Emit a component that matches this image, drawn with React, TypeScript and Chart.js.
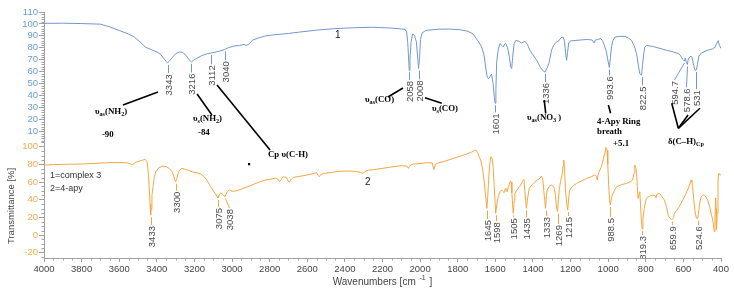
import React, { useEffect, useRef } from 'react';
import { Chart, registerables } from 'chart.js';

Chart.register(...registerables);

// ---- Data ----
// Spectrum 1 (complex 3): [wavenumber, transmittance %]
const spectrum1: [number, number][] = [
  [4000,100.5],[3900,100.6],[3800,100.3],[3700,99.8],[3650,97.5],[3600,94.5],[3550,91.5],[3520,89],[3490,85],[3460,80.5],
  [3430,78.5],[3400,76.5],[3380,74.5],[3365,71.5],[3350,68.5],[3343,67.3],[3335,68.5],[3320,71.5],[3300,75],[3280,76.5],
  [3265,76.3],[3250,74.5],[3235,71.5],[3222,68.8],[3216,68.2],[3205,69.5],[3190,71],[3160,73.5],[3130,75.2],[3112,75.6],
  [3090,76.3],[3060,77.5],[3040,78.6],[3020,80],[2990,81.5],[2960,82],[2935,82.8],[2925,82],[2910,83],[2890,86.5],
  [2860,88.2],[2820,90],[2780,90.8],[2700,92],[2640,93.2],[2550,94.8],[2460,96],[2350,96.8],[2250,97.2],[2150,96.5],
  [2100,95.8],[2080,95.4],[2072,93.5],[2066,85],[2060,68],[2058,61.1],[2054,70],[2048,85],[2040,91.5],[2030,90.5],
  [2020,85],[2012,70],[2008,62.6],[2003,72],[1998,87],[1990,92.3],[1970,94.6],[1900,95.6],[1850,95.7],[1790,95.2],
  [1750,94],[1735,93],[1718,91.5],[1700,87.5],[1685,84],[1673,80.7],[1660,74],[1650,62],[1643,55.6],[1636,54],
  [1628,56],[1620,58],[1612,50],[1605,38],[1601,33.5],[1597,45],[1593,68],[1585,78],[1576,83.5],[1565,82],
  [1558,80.7],[1550,83.2],[1544,83.5],[1535,80],[1526,73],[1518,64],[1513,62.6],[1508,72],[1500,83.5],[1491,86.2],
  [1475,85.5],[1460,84],[1443,85.5],[1430,83],[1416,78],[1400,74],[1380,69.5],[1360,63.5],[1345,60.5],[1336,59.7],
  [1325,63],[1315,67],[1301,78],[1290,82],[1278,84.5],[1265,85.5],[1255,87.5],[1245,89],[1238,88.6],[1232,85],
  [1226,75],[1221,69.5],[1216,76],[1210,84],[1200,85.8],[1186,86],[1150,86.5],[1110,87],[1085,86.5],[1075,84],
  [1068,86.5],[1055,87],[1040,87.8],[1030,86],[1020,82],[1010,77],[1002,70],[993.6,63.5],[988,72],[982,81],
  [975,86],[964,89],[940,89.6],[910,89.5],[890,88],[876,86.2],[860,81],[849,75],[838,64],[832,58.3],
  [822.5,57],[817,66],[810,76],[805,80.7],[795,82],[760,81],[725,79.5],[690,78],[654,76.5],[625,75],
  [615,73.5],[605,70.5],[594.7,69],[590,71.5],[584,67.5],[578.6,66],[574,70.5],[565,72.5],[555,72.5],[545,65],
  [538,61],[531,61.5],[525,66],[518,73],[505,75.5],[480,77.5],[460,78.5],[445,79],[432,80.5],[425,83],
  [415,86],[408,82],[400,79.5],
];

// Spectrum 2 (4-apy): [wavenumber, transmittance %]
const spectrum2: [number, number][] = [
  [4000,79.3],[3950,79.8],[3900,80],[3850,80.3],[3790,80.5],[3700,81.5],[3650,82],[3600,82],[3560,81.8],[3540,80.5],
  [3528,80],[3515,82],[3500,83.3],[3480,84.5],[3462,85.7],[3452,83],[3445,70],[3440,52],[3436,35],[3433,22.6],
  [3430,30],[3426,45],[3420,55],[3414,65],[3405,72],[3390,76],[3370,78],[3350,77.5],[3335,75.5],[3320,72],
  [3310,67],[3304,62],[3300,60.4],[3295,63],[3288,69],[3280,73],[3268,75.5],[3250,74.5],[3230,73],[3210,71.5],
  [3185,70.5],[3165,69],[3150,66.5],[3135,62.5],[3120,57],[3100,50],[3088,46.5],[3080,44],[3075,42],[3070,44.5],
  [3062,47.5],[3055,47],[3047,45.5],[3042,44],[3038,43.5],[3032,46],[3024,50],[3015,51],[3000,49.5],[2980,50],
  [2950,52],[2920,54.5],[2880,58],[2850,60.5],[2820,62.5],[2790,63.5],[2770,64.5],[2755,63],[2748,60.5],[2740,62.5],
  [2728,66],[2712,65.3],[2702,61.5],[2696,59.7],[2688,62.5],[2675,65.3],[2640,66.5],[2600,68],[2570,69.5],[2551,70.6],
  [2542,67.5],[2536,66],[2528,68.5],[2515,69.8],[2470,71],[2420,72.3],[2380,72.5],[2340,72],[2320,71],[2305,69.8],
  [2295,71.5],[2276,73.5],[2249,74],[2200,75.5],[2143,77.4],[2100,78.5],[2070,78],[2062,75.5],[2055,78.5],[2037,80.4],
  [2000,81],[1965,81.9],[1935,81.5],[1927,74],[1920,79],[1912,81.1],[1870,83.5],[1824,86.8],[1790,89],[1753,91.7],
  [1725,94],[1709,96.3],[1700,95.5],[1693,93],[1685,88],[1678,85],[1668,75],[1660,62.3],[1652,45],[1645,30.2],
  [1640,45],[1636,62],[1630,80],[1624,88.7],[1618,87.5],[1612,78],[1606,55],[1598,24.6],[1592,35],[1585,43.4],
  [1575,49],[1567,51],[1560,49.5],[1554,48],[1548,52],[1544,53],[1537,49],[1530,55],[1526,57],[1520,61],
  [1516,60],[1512,48],[1505,24.6],[1500,38],[1496,47.2],[1485,51],[1470,55],[1458,60],[1448,63],[1443,50],
  [1435,30.2],[1428,42],[1420,52.8],[1405,57],[1390,60.4],[1375,62.5],[1363,64.2],[1354,66.8],[1347,62],[1340,45],
  [1333,30.2],[1328,45],[1324,51],[1315,55],[1301,56.6],[1289,54.7],[1280,45],[1274,30],[1269,26.5],[1265,40],
  [1260,52],[1252,62],[1245,68],[1240,78],[1236,85],[1232,75],[1227,51],[1220,35],[1215,28.3],[1210,42],
  [1204,51],[1190,55],[1168,58.5],[1140,61.5],[1115,64.2],[1090,66],[1071,68],[1062,66],[1058,62.3],[1054,68],
  [1048,71.7],[1035,78],[1027,85],[1018,93],[1012,99.2],[1006,96],[1002,80],[997,55],[991,36],[988.5,34],
  [984,40],[978,45.3],[968,50],[955,54.7],[930,57],[902,58.5],[880,60.5],[870,62.3],[862,70],[858,79.3],
  [852,75],[849,70],[845,55],[841,41.5],[836,47],[832,49],[828,35],[823,15],[819.3,7],[815,19],
  [808,30],[797,41.5],[780,44],[762,45.3],[750,44.5],[745,42.3],[740,46.5],[727,47.2],[715,44],[701,39.6],
  [690,32],[680,22],[672,19],[665,18],[659.9,17.5],[652,20],[648,24.6],[635,28],[622,32],[605,39],
  [586,47],[570,55],[559,62.3],[555,60],[551,54.7],[545,40],[537,25],[530,19],[524.6,18.5],[520,24],
  [514,35],[506,43.4],[495,45.5],[489,45.3],[480,43],[471,39.6],[460,32],[450,22],[444,17.2],[438,8],
  [436,4],[432,20],[428,42],[426,30],[424,6],[420,25],[416,60],[413,70],[405,68],[400,68.5],
];

const xTickValues = [4000,3800,3600,3400,3200,3000,2800,2600,2400,2200,2000,1800,1600,1400,1200,1000,800,600,400];
const topTickValues = [10,20,30,40,50,60,70,80,90,100,110];
const bottomTickValues = [-20,0,20,40,60,80,100];

// Peak labels: [wavenumber, text, label top (transmittance), label wavenumber]
const peaks1: [number, string, number, number?][] = [
  [3343,'3343',57.8],[3216,'3216',58.4],[3112,'3112',65.3],[3040,'3040',68.7],
  [2058,'2058',52.2],[2008,'2008',52.7],[1601,'1601',25],[1336,'1336',50.5],
  [993.6,'993.6',56.1],[822.5,'822.5',47.6],[594.7,'594.7',52.2,650],[578.6,'578.6',46,585],[531,'531',44.4],
];
const peaks2: [number, string, number, number?][] = [
  [3433,'3433',10.2],[3300,'3300',49],[3075,'3075',30.6],[3038,'3038',29.4,3015],
  [1645,'1645',17],[1598,'1598',14.5],[1505,'1505',19],[1435,'1435',19],[1333,'1333',20.4],
  [1269,'1269',11.3],[1215,'1215',20.4],[988.5,'988.5',19.2],[819.3,'819.3',-1],[659.9,'659.9',10],[524.6,'524.6',10],
];

// Band assignments: text ( _{..} = subscript ), wavenumber, value, axis ('t' top / 'b' bottom)
const assignments: [string, number, number, string][] = [
  ['υ_{as}(NH_{2})',3729,26.2,'t'],
  ['-90',3692,6.9,'t'],
  ['υ_{s}(NH_{2})',3208,20.3,'t'],
  ['-84',3181,8.6,'t'],
  ['Cp υ(C-H)',2809,90.6,'b'],
  ['υ_{as}(CO)',2293,36.2,'t'],
  ['υ_{s}(CO)',1937,28.7,'t'],
  ['υ_{as}(NO_{3} )',1432,21.1,'t'],
  ['4-Apy Ring',1059,17.8,'t'],
  ['breath',1059,9.4,'t'],
  ['+5.1',974,103,'b'],
  ['δ(C–H)_{Cp}',682,105.3,'b'],
];

// Leader lines: list of [wavenumber, value, axis] points
const leaders: [number, number, string][][] = [
  [[3580,32,'t'],[3394,43,'t']],
  [[3186,41.3,'t'],[3107,23.7,'t']],
  [[3080,48.8,'t'],[2798,96.3,'b']],
  [[2171,38.8,'t'],[2091,46.3,'t']],
  [[1974,38.2,'t'],[1885,33.5,'t']],
  [[1340,36.2,'t'],[1332,25.1,'t']],
  [[999,32,'t'],[987,25.1,'t']],
  [[627,12.5,'t'],[662,33.5,'t']],
  [[627,12.5,'t'],[575,23.7,'t']],
  [[627,12.5,'t'],[512,29.3,'t']],
];

const dots: [number, number, string][] = [[2910,80.4,'b']];

const curveNames: [string, number, number, string][] = [['1',2453,90.5,'t'],['2',2293,60,'b']];
const legendLines: [string, number, number, string][] = [['1=complex 3',3968,67.8,'b'],['2=4-apy',3968,53.2,'b']];

const BLUE = '#7197d0';
const ORANGE = '#f7a541';
const BLUE_TXT = '#6a9ad6';
const ORANGE_TXT = '#f5a94e';
const AXIS = '#a0a0a0';

function interp(sp: [number, number][], wn: number): number {
  for (let i = 0; i < sp.length - 1; i++) {
    const [a, ya] = sp[i];
    const [b, yb] = sp[i + 1];
    if (wn <= a && wn >= b) {
      if (a === b) return ya;
      return ya + (yb - ya) * (a - wn) / (a - b);
    }
  }
  return sp[sp.length - 1][1];
}

function drawRich(ctx: CanvasRenderingContext2D, s: string, x: number, y: number, size: number) {
  const re = /_\{([^}]*)\}/g;
  const parts: [string, boolean][] = [];
  let last = 0;
  let m: RegExpExecArray | null;
  while ((m = re.exec(s))) {
    if (m.index > last) parts.push([s.slice(last, m.index), false]);
    parts.push([m[1], true]);
    last = re.lastIndex;
  }
  if (last < s.length) parts.push([s.slice(last), false]);
  let cx = x;
  for (const [t, sub] of parts) {
    ctx.font = `bold ${sub ? size * 0.7 : size}px "Liberation Serif", "DejaVu Serif", serif`;
    ctx.fillText(t, cx, sub ? y + size * 0.28 : y);
    cx += ctx.measureText(t).width;
  }
}

const irPlugin = {
  id: 'irAnnotations',
  afterDatasetsDraw(chart: any) {
    const ctx: CanvasRenderingContext2D = chart.ctx;
    const xs = chart.scales.x;
    const yt = chart.scales.yTop;
    const yb = chart.scales.yBot;
    const ca = chart.chartArea;
    const ax = (a: string) => (a === 't' ? yt : yb);

    ctx.save();
    ctx.beginPath();
    ctx.rect(ca.left, ca.top, ca.right - ca.left, ca.bottom - ca.top);
    ctx.clip();

    const drawPeaks = (list: [number, string, number, number?][], sp: [number, number][], ys: any, color: string) => {
      for (const [wn, text, top, lwn] of list) {
        const px = xs.getPixelForValue(wn);
        const py = ys.getPixelForValue(interp(sp, wn));
        const lx = xs.getPixelForValue(lwn ?? wn);
        const ty = ys.getPixelForValue(top);
        ctx.strokeStyle = color;
        ctx.lineWidth = 1;
        ctx.beginPath();
        ctx.moveTo(Math.round(px) + 0.5, py + 2);
        ctx.lineTo(Math.round(lx) + 0.5, ty - 1);
        ctx.stroke();
        ctx.save();
        ctx.translate(Math.round(lx) + 0.5, ty);
        ctx.rotate(-Math.PI / 2);
        ctx.textAlign = 'right';
        ctx.textBaseline = 'middle';
        ctx.fillStyle = '#4a4a4a';
        ctx.font = '9.5px "Liberation Sans", Arial, sans-serif';
        ctx.fillText(text, 0, 0.5);
        ctx.restore();
      }
    };
    drawPeaks(peaks1, spectrum1, yt, BLUE);
    drawPeaks(peaks2, spectrum2, yb, ORANGE);
    ctx.restore();

    // leader lines
    ctx.save();
    ctx.strokeStyle = '#000';
    ctx.lineWidth = 1.6;
    for (const pts of leaders) {
      ctx.beginPath();
      pts.forEach(([wn, v, a], i) => {
        const x = xs.getPixelForValue(wn);
        const y = ax(a).getPixelForValue(v);
        if (i === 0) ctx.moveTo(x, y); else ctx.lineTo(x, y);
      });
      ctx.stroke();
    }
    ctx.fillStyle = '#000';
    for (const [wn, v, a] of dots) {
      ctx.fillRect(xs.getPixelForValue(wn) - 1, ax(a).getPixelForValue(v) - 1, 2.2, 2.2);
    }
    // assignment texts
    ctx.textAlign = 'left';
    ctx.textBaseline = 'middle';
    for (const [t, wn, v, a] of assignments) {
      drawRich(ctx, t, xs.getPixelForValue(wn), ax(a).getPixelForValue(v), 8.8);
    }
    // curve names and legend
    ctx.fillStyle = '#222';
    ctx.font = '10px "Liberation Sans", Arial, sans-serif';
    for (const [t, wn, v, a] of curveNames) {
      ctx.fillText(t, xs.getPixelForValue(wn), ax(a).getPixelForValue(v));
    }
    ctx.fillStyle = '#333';
    ctx.font = '9px "Liberation Sans", Arial, sans-serif';
    for (const [t, wn, v, a] of legendLines) {
      ctx.fillText(t, xs.getPixelForValue(wn), ax(a).getPixelForValue(v));
    }
    ctx.restore();
  },
  afterDraw(chart: any) {
    const ctx: CanvasRenderingContext2D = chart.ctx;
    const xs = chart.scales.x;
    const yt = chart.scales.yTop;
    const yb = chart.scales.yBot;
    const ca = chart.chartArea;
    ctx.save();
    ctx.lineWidth = 1;
    ctx.strokeStyle = AXIS;
    ctx.beginPath();
    // minor ticks x
    for (let v = 400; v <= 4000; v += 50) {
      if (v % 200 === 0) continue;
      const x = Math.round(xs.getPixelForValue(v)) + 0.5;
      ctx.moveTo(x, ca.bottom);
      ctx.lineTo(x, ca.bottom + 2.5);
    }
    // minor ticks y top
    for (let v = 2; v < 110; v += 2) {
      if (v % 10 === 0 || v < yt.min) continue;
      const y = Math.round(yt.getPixelForValue(v)) + 0.5;
      ctx.moveTo(ca.left - 2.5, y);
      ctx.lineTo(ca.left, y);
    }
    // minor ticks y bottom
    for (let v = -25; v <= 105; v += 5) {
      if (v % 20 === 0) continue;
      const y = Math.round(yb.getPixelForValue(v)) + 0.5;
      ctx.moveTo(ca.left - 2.5, y);
      ctx.lineTo(ca.left, y);
    }
    ctx.stroke();

    // x title with superscript
    ctx.fillStyle = '#444';
    ctx.textBaseline = 'middle';
    ctx.textAlign = 'left';
    const f = '10px "Liberation Sans", Arial, sans-serif';
    const fs = '7px "Liberation Sans", Arial, sans-serif';
    const p1 = 'Wavenumbers [cm ';
    const p2 = '-1';
    const p3 = ' ]';
    ctx.font = f;
    const w1 = ctx.measureText(p1).width;
    const w3 = ctx.measureText(p3).width;
    ctx.font = fs;
    const w2 = ctx.measureText(p2).width;
    const total = w1 + w2 + w3 + 2;
    const cx = (ca.left + ca.right) / 2;
    const ty = 282;
    let x = cx - total / 2;
    ctx.font = f;
    ctx.fillText(p1, x, ty);
    x += w1 + 1;
    ctx.font = fs;
    ctx.fillText(p2, x, ty - 4);
    x += w2 + 1;
    ctx.font = f;
    ctx.fillText(p3, x, ty);

    // y title
    ctx.save();
    ctx.translate(11.5, yb.getPixelForValue(33));
    ctx.rotate(-Math.PI / 2);
    ctx.textAlign = 'center';
    ctx.font = '9.5px "Liberation Sans", Arial, sans-serif';
    ctx.fillStyle = '#444';
    ctx.fillText('Transmittance [%]', 0, 0);
    ctx.restore();
    ctx.restore();
  },
};

export default function App() {
  const ref = useRef<HTMLCanvasElement | null>(null);
  useEffect(() => {
    if (!ref.current) return;
    const tickFont = { family: '"Liberation Sans", Arial, sans-serif', size: 9.5 };
    const plain = (v: any) => String(v);
    const chart = new Chart(ref.current, {
      type: 'line',
      data: {
        datasets: [
          {
            label: '1=complex 3',
            data: spectrum1.map(([x, y]) => ({ x, y })),
            borderColor: BLUE,
            borderWidth: 1,
            pointRadius: 0,
            yAxisID: 'yTop',
            tension: 0,
          },
          {
            label: '2=4-apy',
            data: spectrum2.map(([x, y]) => ({ x, y })),
            borderColor: ORANGE,
            borderWidth: 1,
            pointRadius: 0,
            yAxisID: 'yBot',
            tension: 0,
          },
        ],
      },
      options: {
        animation: false,
        responsive: false,
        events: [],
        layout: { padding: { top: 12, right: 13, bottom: 0, left: 0 } },
        plugins: { legend: { display: false }, tooltip: { enabled: false } },
        scales: {
          x: {
            type: 'linear',
            reverse: true,
            min: 400,
            max: 4000,
            position: 'bottom',
            afterBuildTicks: (s: any) => { s.ticks = xTickValues.map((v) => ({ value: v })); },
            afterFit: (s: any) => { s.height = 33; },
            ticks: { color: '#444', font: tickFont, padding: 2, maxRotation: 0, autoSkip: false, callback: plain },
            grid: { drawOnChartArea: false, drawTicks: true, tickLength: 4, color: AXIS },
            border: { color: AXIS },
          },
          yBot: {
            type: 'linear',
            position: 'left',
            stack: 'ir',
            stackWeight: 117,
            min: -26,
            max: 106.5,
            afterBuildTicks: (s: any) => { s.ticks = bottomTickValues.map((v) => ({ value: v })); },
            afterFit: (s: any) => { s.width = 44; },
            ticks: { color: ORANGE_TXT, font: tickFont, padding: 1, autoSkip: false, callback: plain },
            grid: { drawOnChartArea: false, drawTicks: true, tickLength: 5, color: AXIS },
            border: { color: AXIS },
          },
          yTop: {
            type: 'linear',
            position: 'left',
            stack: 'ir',
            stackWeight: 129,
            min: 1.87,
            max: 110,
            afterBuildTicks: (s: any) => { s.ticks = topTickValues.map((v) => ({ value: v })); },
            afterFit: (s: any) => { s.width = 44; },
            ticks: { color: BLUE_TXT, font: tickFont, padding: 1, autoSkip: false, callback: plain },
            grid: { drawOnChartArea: false, drawTicks: true, tickLength: 5, color: AXIS },
            border: { color: AXIS },
          },
        },
      } as any,
      plugins: [irPlugin],
    });
    return () => chart.destroy();
  }, []);
  return (
    <div style={{ position: 'fixed', left: 0, top: 0, width: 734, height: 291, background: '#fff' }}>
      <canvas ref={ref} width={734} height={291} style={{ display: 'block' }} />
    </div>
  );
}
